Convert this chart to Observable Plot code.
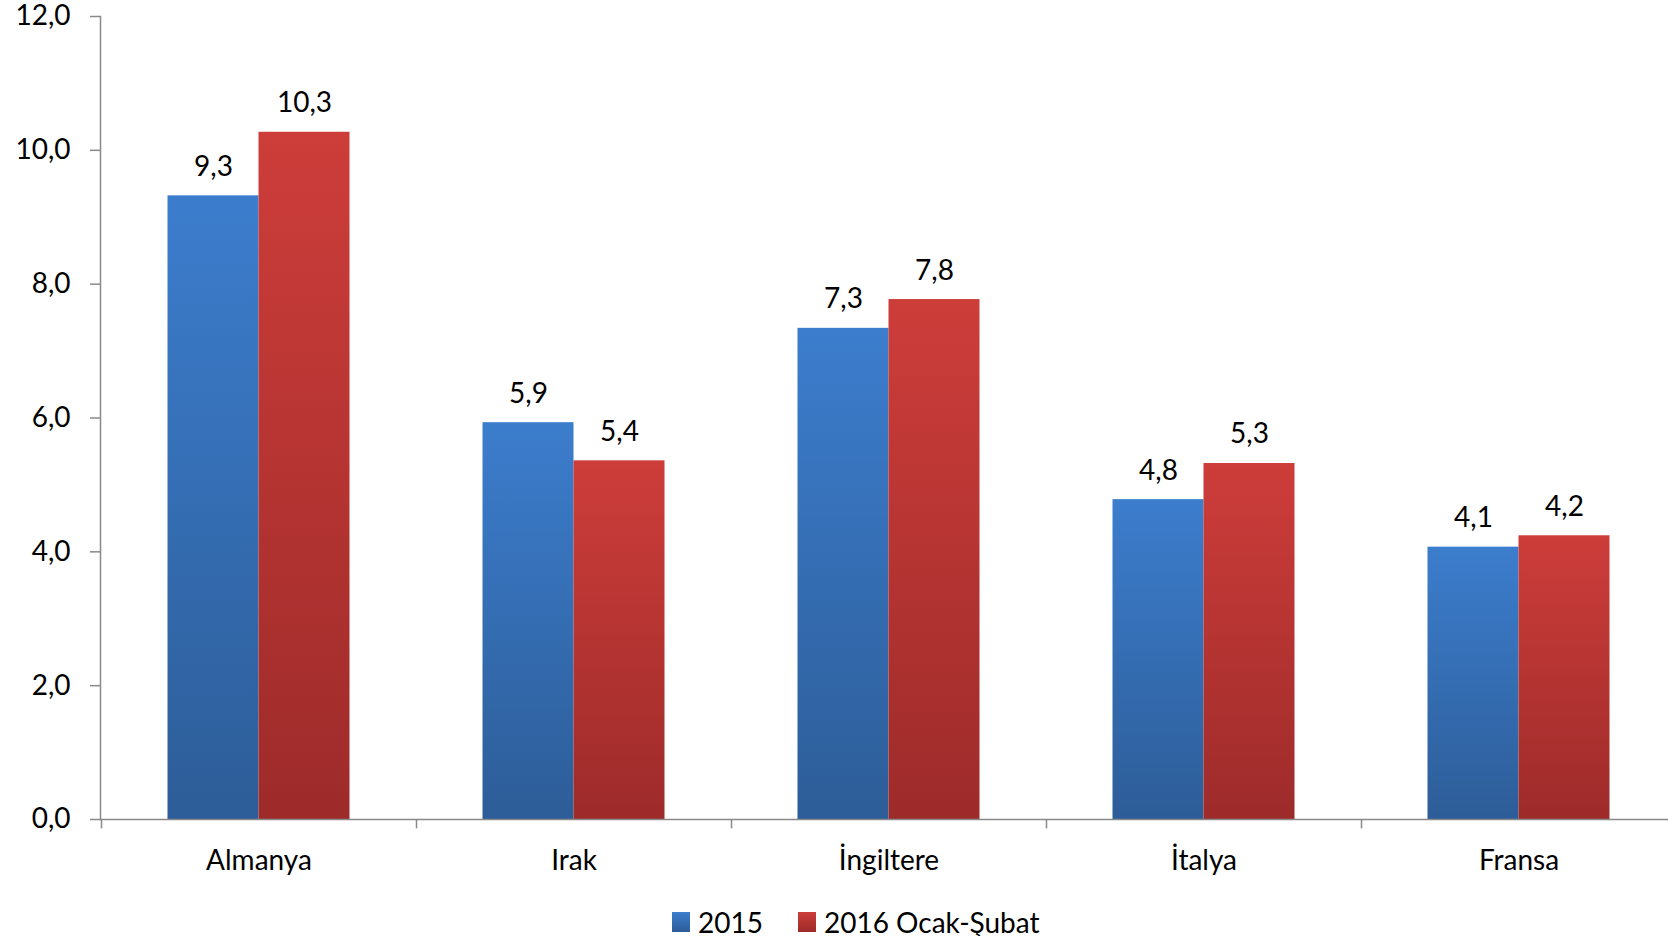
<!DOCTYPE html>
<html>
<head>
<meta charset="utf-8">
<script src="https://cdn.jsdelivr.net/npm/d3@7"></script>
<script src="https://cdn.jsdelivr.net/npm/@observablehq/plot@0.6"></script>
<style>
  html, body { margin: 0; padding: 0; background: #fff; overflow: hidden; }
  body { font-family: Lato, "Open Sans", sans-serif; color: #000; }
  #legend { display: flex; align-items: center; margin-left: 672px; padding-top: 28px; font-size: 28px; line-height: 28px; }
  #legend .sw { width: 18px; height: 20px; display: inline-block; margin-right: 8px; }
  #legend .item { display: flex; align-items: center; margin-right: 35px; }
</style>
</head>
<body>
<svg width="0" height="0" style="position:absolute">
  <defs>
    <linearGradient id="gBlue" x1="0" y1="0" x2="0" y2="1">
      <stop offset="0" stop-color="#3C7DCD"/>
      <stop offset="1" stop-color="#2D5D98"/>
    </linearGradient>
    <linearGradient id="gRed" x1="0" y1="0" x2="0" y2="1">
      <stop offset="0" stop-color="#CD3D3A"/>
      <stop offset="1" stop-color="#9D2B2A"/>
    </linearGradient>
  </defs>
</svg>
<div id="chart"></div>
<div id="legend"></div>
<script>
const categories = ["Almanya", "Irak", "İngiltere", "İtalya", "Fransa"];
const seriesNames = ["2015", "2016 Ocak-Şubat"];
const values2015 = [9.32, 5.93, 7.34, 4.78, 4.07];
const values2016 = [10.27, 5.36, 7.77, 5.32, 4.24];
const yTicks = [0, 2, 4, 6, 8, 10, 12];

const fmt = v => v.toFixed(1).replace(".", ",");
const d2015 = categories.map((c, i) => ({category: c, value: values2015[i]}));
const d2016 = categories.map((c, i) => ({category: c, value: values2016[i]}));

const width = 1668, height = 880;
const x0 = 100.5, x1 = 1675.5;
const bw = (x1 - x0) / categories.length;
const barW = 91;
const axisColor = "#898989";

const chart = Plot.plot({
  width, height,
  marginLeft: 100, marginRight: 0, marginTop: 16, marginBottom: 61,
  style: {fontFamily: "Lato, 'Open Sans', sans-serif", fontSize: "28px", color: "#000", background: "#fff", overflow: "visible"},
  x: {type: "band", domain: categories, range: [x0, x1], padding: 0},
  y: {domain: [0, 12]},
  marks: [
    Plot.barY(d2015, {x: "category", y: "value", fill: "url(#gBlue)", insetLeft: bw / 2 - barW, insetRight: bw / 2}),
    Plot.barY(d2016, {x: "category", y: "value", fill: "url(#gRed)", insetLeft: bw / 2, insetRight: bw / 2 - barW}),
    Plot.frame({anchor: "left", stroke: axisColor, strokeWidth: 1.5}),
    Plot.ruleY([0], {stroke: axisColor, strokeWidth: 1.5}),
    Plot.ruleX(categories, {x: d => d, y1: 0, y2: -0.14, dx: -bw / 2, stroke: axisColor, strokeWidth: 1.5}),
    Plot.axisY({ticks: yTicks, tickFormat: fmt, tickSize: 10, tickPadding: 20, stroke: axisColor, strokeWidth: 1.5, fontSize: 28, label: null}),
    Plot.axisX({tickSize: 0, tickPadding: 31, fontSize: 28, label: null}),
    Plot.text(d2015, {x: "category", y: "value", text: d => fmt(d.value), dx: -barW / 2, dy: -29, lineAnchor: "middle", fontSize: 28, fill: "#000"}),
    Plot.text(d2016, {x: "category", y: "value", text: d => fmt(d.value), dx: barW / 2, dy: -29, lineAnchor: "middle", fontSize: 28, fill: "#000"})
  ]
});
document.getElementById("chart").appendChild(chart);

const legend = document.getElementById("legend");
const grads = ["linear-gradient(#3C7DCD, #2D5D98)", "linear-gradient(#CD3D3A, #9D2B2A)"];
seriesNames.forEach((name, i) => {
  const item = document.createElement("span");
  item.className = "item";
  const sw = document.createElement("span");
  sw.className = "sw";
  sw.style.background = grads[i];
  item.appendChild(sw);
  item.appendChild(document.createTextNode(name));
  legend.appendChild(item);
});
</script>
</body>
</html>
